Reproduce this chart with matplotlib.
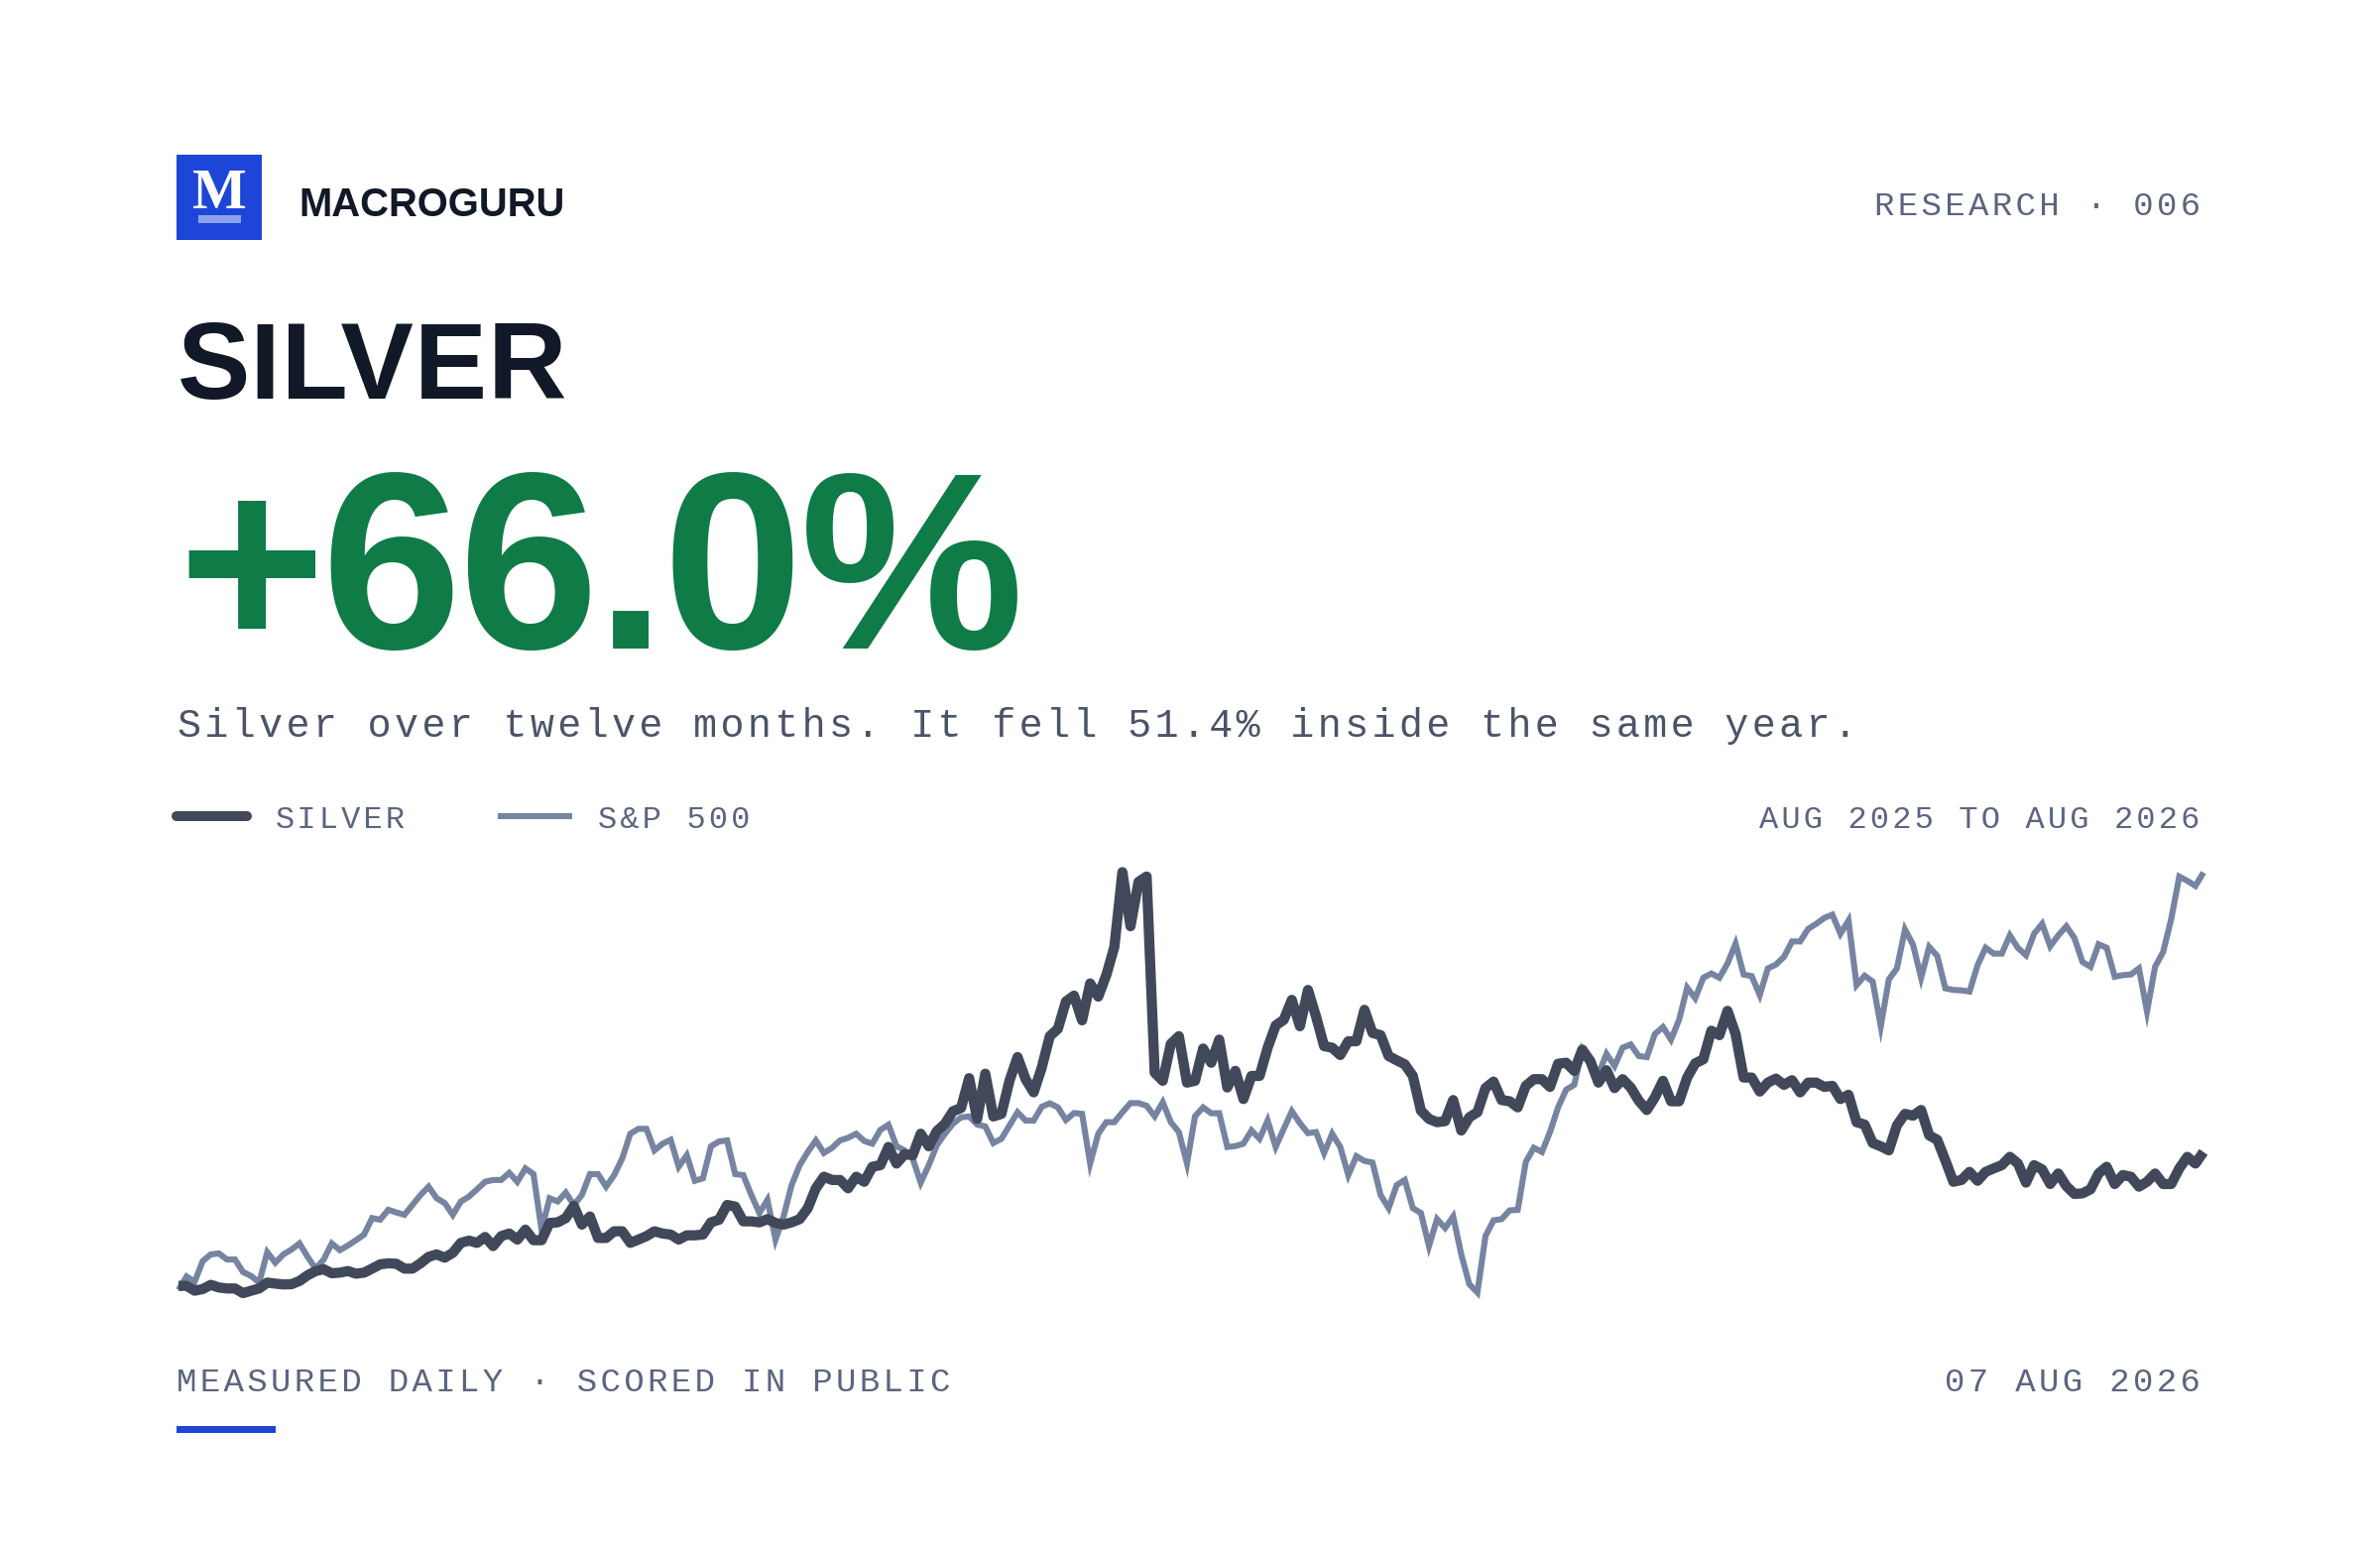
import matplotlib
matplotlib.use("Agg")
import matplotlib.pyplot as plt
from matplotlib import font_manager as fm
from matplotlib.patches import Rectangle
from fontTools.ttLib import TTFont

# percent change from the first day, one value per trading day
silver = [0, 0, -2.4, -1.6, 0.5, -0.8, -1.3, -1.3, -3.6, -2.4, -1.3, 1.6, 1.1, 0.7, 0.8, 2.4, 5.2, 7.3, 8.2, 6.2,
          6.5, 7.3, 6.0, 6.5, 8.5, 10.6, 11.1, 10.9, 8.5, 8.5, 11.1, 14.3, 15.5, 13.9, 16.3, 21.2, 22.3, 21.2, 24.1, 19.6,
          24.5, 25.8, 22.8, 27.7, 22.5, 22.5, 31.0, 31.3, 33.4, 39.4, 30.2, 34.2, 23.6, 23.6, 26.9, 26.9, 21.2, 22.8, 24.5, 26.9,
          25.8, 25.3, 22.8, 24.9, 24.9, 25.3, 31.3, 32.6, 39.9, 39.1, 31.8, 31.8, 31.3, 32.9, 31.0, 30.2, 31.3, 32.9, 38.3, 48.1,
          53.8, 52.2, 52.2, 48.1, 53.8, 51.3, 58.7, 59.5, 68.5, 60.3, 64.9, 64.4, 75.0, 68.8, 76.3, 79.9, 86.1, 87.7, 102.4, 82.3,
          104.6, 83.5, 84.8, 101.1, 112.8, 101.9, 95.4, 107.6, 123.1, 126.7, 140.2, 143.1, 130.9, 149.1, 142.6, 153.2, 167.1, 204.0, 177.3, 199.2,
          201.8, 105.1, 101.1, 119.3, 123.1, 100.2, 101.1, 117.0, 110.0, 121.4, 97.8, 106.0, 92.1, 103.5, 103.5, 117.4, 128.4, 131.2, 141.0, 128.0,
          145.9, 132.8, 118.2, 117.4, 113.8, 120.6, 120.6, 136.1, 124.7, 123.6, 113.3, 111.2, 109.2, 103.5, 86.4, 82.3, 80.7, 81.2, 91.6, 76.6,
          83.1, 85.6, 97.5, 100.7, 91.6, 91.0, 88.0, 98.6, 101.9, 101.9, 98.1, 109.5, 110.0, 106.0, 116.5, 110.8, 100.2, 106.3, 97.5, 101.9,
          97.8, 91.3, 86.7, 92.9, 101.1, 91.0, 91.0, 102.7, 109.7, 111.7, 125.8, 123.6, 135.6, 124.2, 102.7, 102.7, 95.8, 100.2, 102.2, 99.1,
          101.4, 95.4, 100.2, 100.2, 98.1, 98.6, 92.1, 94.2, 80.7, 79.5, 70.4, 68.8, 66.8, 79.1, 84.8, 83.9, 86.7, 74.2, 72.0, 61.9,
          51.3, 52.2, 56.2, 51.8, 56.2, 57.9, 59.5, 63.6, 60.3, 50.9, 59.5, 57.4, 50.2, 55.4, 49.2, 45.3, 45.6, 47.6, 55.4, 58.7,
          50.2, 54.6, 53.8, 48.9, 51.3, 55.4, 50.2, 50.2, 57.9, 63.6, 60.3, 66.0]

# S&P 500 on the same scale as the silver line
spx = [-2.0, 4.6, 2.0, 12.2, 15.5, 16.0, 13.0, 13.0, 6.8, 4.9, 1.6, 16.6, 11.4, 15.5, 17.9, 20.9, 14.3, 8.5, 13.0, 20.9,
       17.6, 19.9, 22.5, 25.3, 33.4, 32.6, 37.5, 36.2, 35.0, 39.9, 44.8, 48.9, 43.2, 40.8, 35.0, 41.6, 44.0, 47.6, 51.3, 52.2,
       52.2, 55.7, 51.3, 57.9, 55.1, 27.7, 43.2, 41.6, 46.0, 39.9, 44.8, 55.1, 55.1, 48.9, 54.6, 62.8, 75.0, 77.4, 77.4, 66.8,
       70.1, 72.0, 58.7, 64.4, 51.8, 53.0, 68.8, 71.2, 71.7, 55.1, 54.6, 44.8, 35.9, 42.4, 22.8, 34.2, 49.7, 59.5, 66.0, 71.7,
       65.5, 68.0, 71.7, 73.0, 75.0, 71.4, 70.1, 76.9, 79.4, 68.8, 66.8, 62.8, 50.9, 59.5, 69.3, 75.0, 79.9, 83.1, 83.5, 79.5,
       78.6, 70.4, 72.5, 79.1, 85.6, 81.5, 81.5, 88.3, 90.0, 88.0, 81.8, 85.2, 84.8, 60.3, 75.0, 80.7, 80.7, 85.6, 90.1, 90.1,
       88.8, 83.6, 90.5, 80.7, 75.8, 60.3, 83.6, 88.0, 85.1, 85.1, 68.5, 68.9, 70.1, 76.6, 72.5, 81.5, 68.5, 77.4, 86.1, 80.2,
       75.3, 75.8, 65.5, 75.0, 68.5, 54.6, 63.9, 61.6, 60.8, 44.8, 38.3, 49.7, 52.2, 38.3, 35.9, 19.6, 32.9, 28.5, 34.2, 15.5,
       0.8, -3.3, 24.5, 32.3, 32.9, 37.2, 37.5, 61.1, 68.1, 66.0, 75.8, 88.0, 96.7, 99.1, 116.5, 110.8, 104.3, 114.4, 108.4, 117.4,
       119.0, 113.3, 112.8, 124.2, 127.6, 121.4, 131.2, 147.0, 141.8, 151.9, 154.0, 151.9, 158.9, 168.7, 153.5, 152.7, 143.4, 156.5, 158.4, 162.2,
       169.8, 169.8, 176.0, 178.5, 181.4, 183.0, 173.6, 180.1, 148.3, 152.9, 150.0, 128.0, 151.1, 156.5, 175.7, 168.2, 151.9, 167.1, 162.7, 146.7,
       145.9, 145.7, 145.1, 158.1, 166.7, 163.8, 163.8, 172.8, 166.6, 163.0, 173.6, 178.5, 167.4, 172.8, 177.3, 171.5, 159.7, 157.3, 168.4, 166.7,
       152.4, 153.2, 153.5, 156.5, 135.3, 157.3, 164.6, 180.9, 201.8, 199.7, 197.2, 203.8]

BLUE = "#1d46d8"
INK = "#111827"
GREEN = "#0f7b47"
MUTED = "#5b6480"
SUB = "#4b5368"
SILVER_LINE = "#414859"
SPX_LINE = "#7684a2"


def tracked(family, weight, spacing, name):
    # matplotlib has no letter-spacing, so change the advances in a copy of the font
    path = fm.findfont(fm.FontProperties(family=family, weight=weight))
    font = TTFont(path)
    extra = int(spacing * font["head"].unitsPerEm)
    metrics = font["hmtx"].metrics
    for glyph in metrics:
        metrics[glyph] = (max(metrics[glyph][0] + extra, 0), metrics[glyph][1])
    font.save(name)
    return name


mono_small = tracked("Liberation Mono", "normal", 0.099, "mono_small.ttf")
mono_legend = tracked("Liberation Mono", "normal", 0.10, "mono_legend.ttf")
mono_sub = tracked("Liberation Mono", "normal", 0.0855, "mono_sub.ttf")
sans_title = tracked("Liberation Sans", "bold", 0.008, "sans_title.ttf")
sans_big = tracked("Liberation Sans", "bold", -0.012, "sans_big.ttf")


def put(x, y, s, path, px, color, ha="left"):
    bg.text(x, y, s, fontproperties=fm.FontProperties(fname=path, size=px * 0.36),
            color=color, ha=ha, va="baseline")


fig = plt.figure(figsize=(12, 7.8), dpi=200, facecolor="white")

# whole page in pixels for the header, legend and footer
bg = fig.add_axes([0, 0, 1, 1])
bg.set_xlim(0, 2400)
bg.set_ylim(1560, 0)
bg.axis("off")

bg.add_patch(Rectangle((178, 156), 86, 86, color=BLUE, lw=0))
bg.add_patch(Rectangle((200, 217), 43, 8, color="white", alpha=0.5, lw=0))
bg.text(221, 210, "M", family="Liberation Serif", weight="bold", size=58 * 0.36,
        color="white", ha="center", va="baseline")
bg.text(301, 218, "MACROGURU", family="Liberation Sans", weight="bold", size=40 * 0.36,
        color=INK, va="baseline")
put(2222, 217, "RESEARCH · 006", mono_small, 34, MUTED, ha="right")

put(179, 402, "SILVER", sans_title, 110, INK)
put(179, 654, "+66.0%", sans_big, 254, GREEN)
put(179, 743, "Silver over twelve months. It fell 51.4% inside the same year.", mono_sub, 40, SUB)

bg.plot([178, 249], [823, 823], color=SILVER_LINE, lw=3.6, solid_capstyle="round")
bg.plot([502, 577], [823, 823], color=SPX_LINE, lw=2.2, solid_capstyle="butt")
put(278, 835, "SILVER", mono_legend, 32, MUTED)
put(603, 835, "S&P 500", mono_legend, 32, MUTED)
put(2222, 835, "AUG 2025 TO AUG 2026", mono_legend, 32, MUTED, ha="right")

put(178, 1403, "MEASURED DAILY · SCORED IN PUBLIC", mono_small, 34, MUTED)
put(2222, 1403, "07 AUG 2026", mono_small, 34, MUTED, ha="right")
bg.add_patch(Rectangle((178, 1438), 100, 7, color=BLUE, lw=0))

# chart area, 860 to 1340 px down the page
ax = fig.add_axes([180 / 2400, 1 - 1340 / 1560, 2042 / 2400, 480 / 1560])
ax.patch.set_alpha(0)
ax.axis("off")
days = range(len(silver))
ax.plot(days, spx, color=SPX_LINE, lw=2.2, solid_joinstyle="miter", solid_capstyle="butt", clip_on=False)
ax.plot(days, silver, color=SILVER_LINE, lw=3.7, solid_joinstyle="round", solid_capstyle="butt", clip_on=False)
ax.set_xlim(0, len(silver) - 1)
ax.set_ylim(-21.2, 213.5)

fig.savefig("out.png", dpi=200)
